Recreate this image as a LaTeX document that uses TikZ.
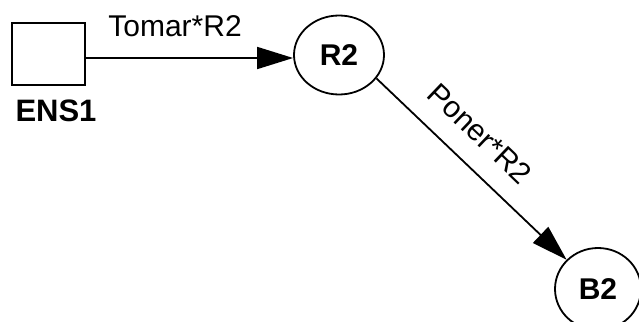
\documentclass[tikz,border=0pt]{standalone}
\usepackage{fontspec}
\setmainfont{Liberation Sans}
\usetikzlibrary{arrows.meta,shapes.geometric}
\begin{document}
\begin{tikzpicture}[x=1pt,y=-1pt,
  conn/.style={line width=1.8pt,-{Triangle[length=36pt,width=22pt]}},
  box/.style={draw,line width=2pt,minimum width=73pt,minimum height=62pt,inner sep=0pt},
  state/.style={draw,ellipse,line width=1.8pt,inner sep=0pt,font=\fontsize{30}{36}\selectfont\bfseries},
  lbl/.style={font=\fontsize{30}{36}\selectfont,inner sep=0pt},
  boxlbl/.style={font=\fontsize{31}{37}\selectfont\bfseries,inner sep=0pt}]
\useasboundingbox (0,0) rectangle (639,321);
\node[box] (sq) at (48.5,54) {};
\node[boxlbl] (ens) at (56,111) {ENS1};
\node[state,minimum width=90pt,minimum height=79pt] (R2) at (339,55) {R2};
\node[state,minimum width=86pt,minimum height=82pt] (B2) at (598,289) {B2};
\draw[conn] ([yshift=-4pt]sq.east) -- ([yshift=-3pt]R2.west)
  node[lbl,pos=0.43,anchor=base,yshift=21pt] {Tomar*R2};
\draw[conn] (R2.-32) -- (B2.137)
  node[lbl,pos=0.43,sloped,above=20pt] {Poner*R2};
\end{tikzpicture}
\end{document}
